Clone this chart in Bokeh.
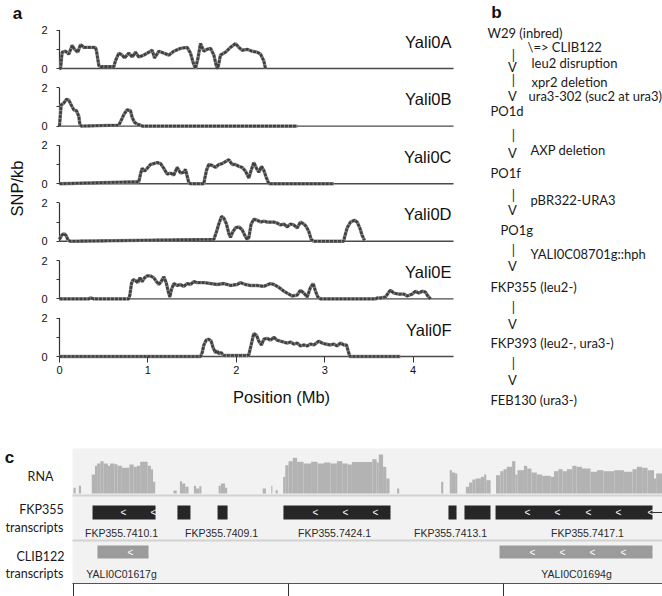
import numpy as np
from bokeh.plotting import figure
from bokeh.models import Range1d, FixedTicker, LinearAxis
from bokeh.core.properties import value
from bokeh.embed import file_html
from bokeh.resources import INLINE

ARIAL = "Liberation Sans"
MYRIAD = "Lato"

# ---------------- panel a data (SNP density, SNP/kb vs position, Mb) ----------------
chromosomes = ["Yali0A", "Yali0B", "Yali0C", "Yali0D", "Yali0E", "Yali0F"]

posA = [0.0, 0.012, 0.030, 0.068, 0.106, 0.143, 0.170, 0.207, 0.238, 0.275, 0.407, 0.419, 0.445, 0.464,
        0.615, 0.633, 0.671, 0.709, 0.735, 0.784, 0.822, 0.860, 0.897, 0.954, 1.011, 1.048, 1.075, 1.124,
        1.180, 1.237, 1.293, 1.369, 1.444, 1.482, 1.512, 1.538, 1.565, 1.595, 1.633, 1.670, 1.708, 1.746,
        1.776, 1.791, 1.821, 1.878, 1.934, 1.991, 2.029, 2.066, 2.123, 2.179, 2.236, 2.274, 2.311, 2.330]
snpA = [0.0, 0.0, 0.85, 0.9, 0.75, 1.2, 1.0, 0.85, 1.25, 1.1, 1.1, 0.9, 0.15, 0.1,
        0.1, 0.4, 0.8, 0.7, 0.55, 0.8, 0.6, 0.85, 0.6, 0.7, 0.85, 0.95, 0.55, 0.9,
        0.8, 0.7, 0.9, 1.05, 1.1, 0.8, 0.3, 0.0, 0.5, 1.3, 0.9, 1.0, 1.05, 0.7,
        0.1, 0.0, 0.7, 0.85, 1.1, 1.3, 1.1, 0.95, 1.0, 0.9, 0.85, 0.75, 0.4, 0.0]

posB = [0.0, 0.019, 0.049, 0.079, 0.106, 0.132, 0.162, 0.192, 0.219, 0.230, 0.245,
        0.671, 0.698, 0.728, 0.765, 0.803, 0.822, 0.848, 0.879, 0.916, 0.935, 2.689]
snpB = [0.0, 1.1, 1.2, 1.4, 1.35, 1.1, 0.85, 0.8, 0.5, 0.1, 0.0,
        0.05, 0.3, 0.6, 0.85, 0.8, 0.45, 0.2, 0.1, 0.05, 0.0, 0.0]

posC = [0.0, 0.897, 0.916, 0.935, 0.962, 0.992, 1.029, 1.067, 1.105, 1.143, 1.180, 1.218, 1.256, 1.293,
        1.331, 1.369, 1.406, 1.425, 1.444, 1.463, 1.482, 1.633, 1.640, 1.663, 1.689, 1.727, 1.765, 1.802,
        1.840, 1.878, 1.916, 1.953, 1.991, 2.029, 2.066, 2.104, 2.142, 2.168, 2.198, 2.229, 2.255, 2.285,
        2.311, 2.341, 2.368, 3.103]
snpC = [0.0, 0.1, 0.5, 0.8, 0.65, 0.8, 1.0, 1.05, 1.1, 1.05, 0.8, 0.5, 0.55, 0.45,
        0.85, 0.55, 0.6, 0.75, 0.4, 0.05, 0.0, 0.0, 0.2, 0.7, 1.0, 0.95, 0.85, 1.0,
        1.05, 1.15, 1.25, 1.0, 1.0, 0.9, 0.85, 0.65, 0.3, 0.7, 1.1, 0.8, 0.6, 0.9,
        0.7, 0.3, 0.0, 0.0]

posD = [0.0, 0.023, 0.049, 0.075, 0.098, 0.124, 1.746, 1.776, 1.802, 1.833, 1.859, 1.889, 1.916, 1.934,
        1.961, 1.991, 2.029, 2.066, 2.097, 2.123, 2.142, 2.168, 2.198, 2.236, 2.274, 2.311, 2.349, 2.387,
        2.425, 2.462, 2.500, 2.538, 2.575, 2.613, 2.651, 2.689, 2.726, 2.764, 2.794, 2.821, 2.847, 2.877,
        3.216, 3.224, 3.254, 3.292, 3.337, 3.367, 3.397, 3.424, 3.450]
snpD = [0.1, 0.3, 0.4, 0.3, 0.05, 0.0, 0.1, 0.5, 0.9, 1.3, 1.2, 0.9, 0.4, 0.2,
        0.5, 0.7, 0.75, 0.6, 0.3, 0.1, 0.2, 0.9, 1.15, 1.1, 1.0, 1.05, 1.0, 1.0,
        1.0, 0.95, 0.85, 0.9, 0.75, 0.9, 0.85, 0.7, 1.0, 0.9, 0.75, 0.5, 0.1, 0.0,
        0.0, 0.2, 0.7, 1.0, 1.1, 1.0, 0.7, 0.3, 0.05]

posE = [0.0, 0.332, 0.351, 0.388, 0.784, 0.796, 0.814, 0.833, 0.860, 0.886, 0.909, 0.935, 0.962, 0.992,
        1.029, 1.067, 1.097, 1.124, 1.150, 1.180, 1.207, 1.229, 1.248, 1.267, 1.293, 1.331, 1.369, 1.406,
        1.444, 1.482, 1.520, 1.557, 1.633, 1.708, 1.784, 1.859, 1.934, 2.010, 2.047, 2.104, 2.161, 2.236,
        2.311, 2.387, 2.425, 2.481, 2.538, 2.575, 2.632, 2.689, 2.726, 2.764, 2.802, 2.839, 2.870, 2.896,
        2.922, 2.952, 3.575, 3.594, 3.631, 3.688, 3.725, 3.744, 3.782, 3.839, 3.895, 3.933, 3.989, 4.027,
        4.065, 4.103, 4.140, 4.167, 4.197]
snpE = [0.0, 0.0, 0.06, 0.0, 0.0, 0.2, 0.8, 1.0, 0.95, 0.85, 1.1, 0.9, 1.1, 1.2,
        1.2, 1.1, 0.9, 0.75, 0.9, 1.15, 0.85, 0.4, 0.1, 0.5, 0.8, 0.7, 0.75, 0.65,
        0.8, 0.75, 0.9, 0.85, 0.85, 0.8, 0.75, 0.8, 0.7, 0.75, 0.85, 0.75, 0.7, 0.7,
        0.65, 0.8, 0.75, 0.6, 0.4, 0.3, 0.15, 0.2, 0.45, 0.3, 0.1, 0.6, 0.8, 0.4,
        0.1, 0.0, 0.0, 0.05, 0.05, 0.1, 0.35, 0.45, 0.3, 0.25, 0.25, 0.15, 0.25, 0.4,
        0.3, 0.4, 0.35, 0.15, 0.0]

posF = [0.0, 1.595, 1.614, 1.633, 1.659, 1.689, 1.716, 1.738, 1.765, 1.784, 1.802, 1.829, 1.859, 1.897,
        2.123, 2.142, 2.168, 2.198, 2.229, 2.255, 2.285, 2.311, 2.349, 2.387, 2.425, 2.462, 2.500, 2.538,
        2.575, 2.613, 2.651, 2.689, 2.726, 2.764, 2.802, 2.839, 2.877, 2.934, 2.971, 3.009, 3.066, 3.103,
        3.141, 3.179, 3.216, 3.247, 3.265, 3.284, 3.857]
snpF = [0.0, 0.0, 0.2, 0.6, 0.85, 0.9, 0.8, 0.45, 0.2, 0.3, 0.15, 0.2, 0.05, 0.05,
        0.05, 0.1, 0.6, 1.2, 1.1, 0.8, 0.6, 0.9, 0.95, 0.85, 1.0, 0.85, 0.8, 0.75,
        0.7, 0.75, 0.65, 0.7, 0.55, 0.6, 0.55, 0.65, 0.6, 0.8, 0.7, 0.65, 0.6, 0.65,
        0.55, 0.7, 0.6, 0.6, 0.3, 0.0, 0.0]

positions = [posA, posB, posC, posD, posE, posF]
snp_values = [snpA, snpB, snpC, snpD, snpE, snpF]
x_ticks_mb = [0, 1, 2, 3, 4]
y_ticks_snp = [0, 1, 2]

# ---------------- panel b data (strain lineage) ----------------
strains = ["W29 (inbred)", "PO1d", "PO1f", "PO1g", "FKP355 (leu2-)", "FKP393 (leu2-, ura3-)", "FEB130 (ura3-)"]
modifications = ["\\=> CLIB122", "leu2 disruption", "xpr2 deletion", "ura3-302 (suc2 at ura3)",
                 "AXP deletion", "pBR322-URA3", "YALI0C08701g::hph"]

# ---------------- panel c data (genome browser, kb) ----------------
rna_start = [0.00, 0.05, 0.17, 0.20, 0.22, 0.25, 0.28, 0.32, 0.34, 0.38, 0.41, 0.45, 0.52, 0.56, 0.59, 0.62,
             0.69, 0.72, 0.74, 0.93, 0.99, 1.01, 1.04, 1.12, 1.14, 1.17, 1.35, 1.37, 1.41, 1.76, 1.84, 1.88,
             1.95, 1.97, 2.00, 2.04, 2.08, 2.14, 2.21, 2.27, 2.33, 2.39, 2.45, 2.50, 2.55, 2.59, 2.78, 2.82,
             2.84, 2.88, 2.91, 3.01, 3.42, 3.50, 3.52, 3.55, 3.65, 3.68, 3.71, 3.74, 3.79, 3.82, 3.84,
             3.93, 3.97, 4.00, 4.03, 4.08, 4.11, 4.13, 4.19, 4.22, 4.26, 4.31, 4.36, 4.44, 4.47, 4.51, 4.55,
             4.59, 4.64, 4.68, 4.73, 4.81, 4.87, 4.93, 5.03, 5.12, 5.20, 5.24, 5.29, 5.34, 5.40, 5.42]
rna_end = [0.02, 0.07, 0.20, 0.22, 0.25, 0.28, 0.32, 0.34, 0.38, 0.41, 0.45, 0.52, 0.56, 0.59, 0.62, 0.69,
           0.72, 0.74, 0.76, 0.96, 1.01, 1.04, 1.07, 1.14, 1.17, 1.19, 1.37, 1.41, 1.43, 1.79, 1.85, 1.90,
           1.97, 2.00, 2.04, 2.08, 2.14, 2.21, 2.27, 2.33, 2.39, 2.45, 2.50, 2.55, 2.59, 2.78, 2.82, 2.84,
           2.88, 2.91, 2.94, 3.03, 3.44, 3.52, 3.55, 3.57, 3.68, 3.71, 3.74, 3.79, 3.82, 3.84, 3.88,
           3.97, 4.00, 4.03, 4.08, 4.11, 4.13, 4.19, 4.22, 4.26, 4.31, 4.36, 4.44, 4.47, 4.51, 4.55, 4.59,
           4.64, 4.68, 4.73, 4.81, 4.87, 4.93, 5.03, 5.12, 5.20, 5.24, 5.29, 5.34, 5.40, 5.42, 5.48]
rna_depth = [5.7, 7.7, 19, 27.7, 30, 32.3, 30, 27.7, 30, 29.3, 27.7, 25.7, 29, 26.7, 27.7, 31.7,
             27.7, 24.3, 11.7, 3, 12.3, 10, 6.7, 7.7, 5, 7.3, 7.7, 10, 5.7, 5, 7.7, 3.3,
             16.7, 28.3, 32.3, 35.7, 31.7, 30, 31.7, 30, 31, 30, 32.3, 30, 29, 31.5, 34.3, 31,
             39, 26.7, 15, 5, 11.7, 23.3, 21, 20, 6.7, 11, 14, 15, 16.7, 19, 13.3,
             18.3, 22.3, 24.3, 26.7, 32.3, 19, 23.3, 27.7, 25, 21, 19, 17.7, 16.7, 22.3, 24.3, 22.3,
             24.3, 27.7, 26.7, 25, 21.7, 23.3, 22.3, 23.3, 21.7, 24.3, 26.7, 25.7, 23.3, 15, 20]

fkp_start = [0.177, 0.967, 1.340, 1.953, 3.488, 3.637, 3.926]
fkp_end = [0.763, 1.088, 1.433, 2.949, 3.563, 3.879, 5.386]
fkp_names = ["FKP355.7410.1", "FKP355.7409.1", "FKP355.7424.1", "FKP355.7413.1", "FKP355.7417.1"]
fkp_name_pos = [0.447, 1.377, 2.428, 3.507, 4.781]
fkp_strand_marks = [0.465, 0.744, 2.251, 2.530, 2.809, 4.223, 4.502, 4.791, 5.070, 5.367]
clib_start = [0.223, 3.963]
clib_end = [0.698, 5.386]
clib_names = ["YALI0C01617g", "YALI0C01694g"]
clib_name_pos = [0.447, 4.679]
clib_strand_marks = [0.530, 4.270, 4.549, 4.828, 5.116]
ruler_ticks_kb = [0, 2, 4]
track_names = ["RNA", "FKP355", "transcripts", "CLIB122", "transcripts"]

# ================= geometry (canvas pixels) =================
W, H = 662, 596
PX0, PY0 = 0, 0
px_per_mb, mb0_page = 88.4, 59      # panel a x scale
px_per_snp, base_page = 19.2, 356   # panel a y scale (Yali0F baseline)
px_per_kb, kb0_page = 107.5, 73     # panel c x scale
track0_page = 583                   # panel c ruler line

def mbx(px):
    return (px - mb0_page) / px_per_mb

def snpy(py):
    return (base_page - py) / px_per_snp

def kbx(px):
    return (px - kb0_page) / px_per_kb

def trky(py):
    return track0_page - py

p = figure(width=W, height=H, x_axis_type=None, y_axis_type=None,
           x_range=Range1d(mbx(PX0), mbx(PX0 + W)), y_range=Range1d(snpy(PY0 + H), snpy(PY0)),
           min_border=0, output_backend="svg", toolbar_location=None)
p.title.visible = False
p.outline_line_color = None
p.extra_x_ranges = {"bpx": Range1d(PX0, PX0 + W), "kb": Range1d(kbx(PX0), kbx(PX0 + W))}
p.extra_y_ranges = {"bpy": Range1d(PY0 + H, PY0), "trk": Range1d(trky(PY0 + H), trky(PY0))}

# ================= panel a =================
offsets = [15, 12, 9, 6, 3, 0]
x_end = mbx(453)
p.segment(x0=[0] * 6, x1=[x_end] * 6, y0=offsets, y1=offsets, line_color="#4a4a4a", line_width=1.4)
p.segment(x0=[0] * 6, x1=[0] * 6, y0=offsets, y1=[o + y_ticks_snp[-1] for o in offsets],
          line_color="#333333", line_width=1.2)

for o, xs, vs in zip(offsets, positions, snp_values):
    ys = np.array(vs) + o
    p.line(xs, ys, line_color="#8c8c8c", line_width=3.4)
    p.line(xs, ys, line_color="#3f3f3f", line_width=2.6, line_dash="3 1")

p.text(x=[mbx(451)] * 6, y=[o + 1.4 for o in offsets], text=chromosomes, text_align="right",
       text_baseline="middle", text_font=value(ARIAL), text_font_size="16.5px", text_color="#111111")

yax = LinearAxis(fixed_location=0, bounds=(0, offsets[0] + y_ticks_snp[-1]))
yax.ticker = FixedTicker(ticks=sorted(o + t for o in offsets for t in y_ticks_snp))
yax.major_label_overrides = {o + t: (str(t) if t != 1 else "") for o in offsets for t in y_ticks_snp}
yax.axis_line_color = None
yax.major_tick_out = 3
yax.major_tick_in = 0
yax.minor_tick_line_color = None
yax.major_tick_line_color = "#333333"
yax.major_label_standoff = 9
yax.major_label_text_font = ARIAL
yax.major_label_text_font_size = "11px"
yax.major_label_text_color = "#111111"
p.add_layout(yax, "left")

xax = LinearAxis(fixed_location=0, bounds=(0, x_end))
xax.ticker = FixedTicker(ticks=x_ticks_mb)
xax.axis_line_color = None
xax.major_tick_out = 6
xax.major_tick_in = 0
xax.minor_tick_line_color = None
xax.major_tick_line_color = "#333333"
xax.major_label_standoff = 3
xax.major_label_text_font = ARIAL
xax.major_label_text_font_size = "11px"
xax.major_label_text_color = "#111111"
p.add_layout(xax, "below")

p.text(x=[mbx(281)], y=[snpy(396)], text=["Position (Mb)"], text_align="center", text_baseline="middle",
       text_font=value(ARIAL), text_font_size="16.5px", text_color="#111111")
p.text(x=[mbx(16)], y=[snpy(188)], text=["SNP/kb"], angle=np.pi / 2, text_align="center",
       text_baseline="middle", text_font=value(ARIAL), text_font_size="16.5px", text_color="#111111")
p.text(x=[mbx(17)], y=[snpy(13)], text=["a"], text_align="center", text_baseline="middle",
       text_font=value(ARIAL), text_font_style="bold", text_font_size="17px", text_color="#111111")

# ================= panel b =================
B = dict(x_range_name="bpx", y_range_name="bpy")
strain_x = [487, 490, 490, 500, 490, 490, 490]
strain_y = [32, 110, 172, 229, 286, 342, 399]
mod_x = [527, 531, 531, 528, 530, 530, 530]
mod_y = [46, 62, 81, 95, 149, 199, 253]
bar_y = [54, 79, 134, 194, 249, 306, 362]
vee_y = [66, 95, 152, 209, 265, 323, 379]
common = dict(text_font=value(MYRIAD), text_font_size="13px", text_baseline="middle", text_color="#1a1a1a")
p.text(x=strain_x, y=strain_y, text=strains, text_align="left", **common, **B)
p.text(x=mod_x, y=mod_y, text=modifications, text_align="left", **common, **B)
p.text(x=[513] * len(bar_y), y=bar_y, text=["|"] * len(bar_y), text_align="center", **common, **B)
p.text(x=[512] * len(vee_y), y=vee_y, text=["V"] * len(vee_y), text_align="center", **common, **B)
p.text(x=[496], y=[12], text=["b"], text_align="center", text_baseline="middle",
       text_font=value(ARIAL), text_font_style="bold", text_font_size="17px", text_color="#111111", **B)

# ================= panel c =================
C = dict(x_range_name="kb", y_range_name="trk")
bg_left, bg_right = kbx(72), kbx(662)
p.quad(left=[bg_left], right=[bg_right], bottom=[trky(583)], top=[trky(448)], fill_color="#f2f2f2",
       line_color=None, **C)
p.segment(x0=[bg_left, bg_left], x1=[bg_right, bg_right], y0=[trky(495), trky(540)],
          y1=[trky(495), trky(540)], line_color="#d2d2d2", line_width=2, **C)

rna_base = trky(493)
p.quad(left=rna_start, right=rna_end, bottom=rna_base, top=[rna_base + d for d in rna_depth],
       fill_color="#b3b3b3", line_color=None, **C)

fkp_mid = trky(512)
p.segment(x0=[fkp_end[-1]], x1=[bg_right], y0=[fkp_mid], y1=[fkp_mid], line_color="#333333",
          line_width=1, **C)
p.quad(left=fkp_start, right=fkp_end, bottom=trky(519), top=trky(505), fill_color="#262626",
       line_color=None, **C)
p.text(x=fkp_strand_marks, y=[fkp_mid] * len(fkp_strand_marks), text=["<"] * len(fkp_strand_marks),
       text_align="center", text_baseline="middle", text_font=value(ARIAL), text_font_size="10px",
       text_color="#ffffff", **C)
p.text(x=fkp_name_pos, y=[trky(532)] * len(fkp_name_pos), text=fkp_names, text_align="center",
       text_baseline="middle", text_font=value(ARIAL), text_font_size="10.5px", text_color="#2a2a2a", **C)

clib_mid = trky(551.5)
p.quad(left=clib_start, right=clib_end, bottom=trky(558), top=trky(545), fill_color="#9b9b9b",
       line_color=None, **C)
p.text(x=clib_strand_marks, y=[clib_mid] * len(clib_strand_marks), text=["<"] * len(clib_strand_marks),
       text_align="center", text_baseline="middle", text_font=value(ARIAL), text_font_size="10px",
       text_color="#ffffff", **C)
p.text(x=clib_name_pos, y=[trky(573)] * len(clib_name_pos), text=clib_names, text_align="center",
       text_baseline="middle", text_font=value(ARIAL), text_font_size="10.5px", text_color="#2a2a2a", **C)

p.text(x=[kbx(40), kbx(41), kbx(34), kbx(40), kbx(34)],
       y=[trky(476), trky(509), trky(527), trky(556), trky(573)], text=track_names,
       text_align="center", text_baseline="middle", text_font=value(MYRIAD), text_font_size="12.5px",
       text_color="#1a1a1a", **C)
p.text(x=[kbx(9)], y=[trky(457)], text=["c"], text_align="center", text_baseline="middle",
       text_font=value(ARIAL), text_font_style="bold", text_font_size="17px", text_color="#111111", **C)

rax = LinearAxis(x_range_name="kb", y_range_name="trk", fixed_location=0, bounds=(bg_left, bg_right))
rax.ticker = FixedTicker(ticks=ruler_ticks_kb)
rax.major_label_overrides = {t: "" for t in ruler_ticks_kb}
rax.major_label_text_font_size = "1px"
rax.major_label_standoff = 0
rax.axis_line_color = "#555555"
rax.major_tick_line_color = "#333333"
rax.major_tick_out = 14
rax.major_tick_in = 0
rax.minor_tick_line_color = None
p.add_layout(rax, "below")

open("out.html", "w").write(file_html(p, INLINE))
